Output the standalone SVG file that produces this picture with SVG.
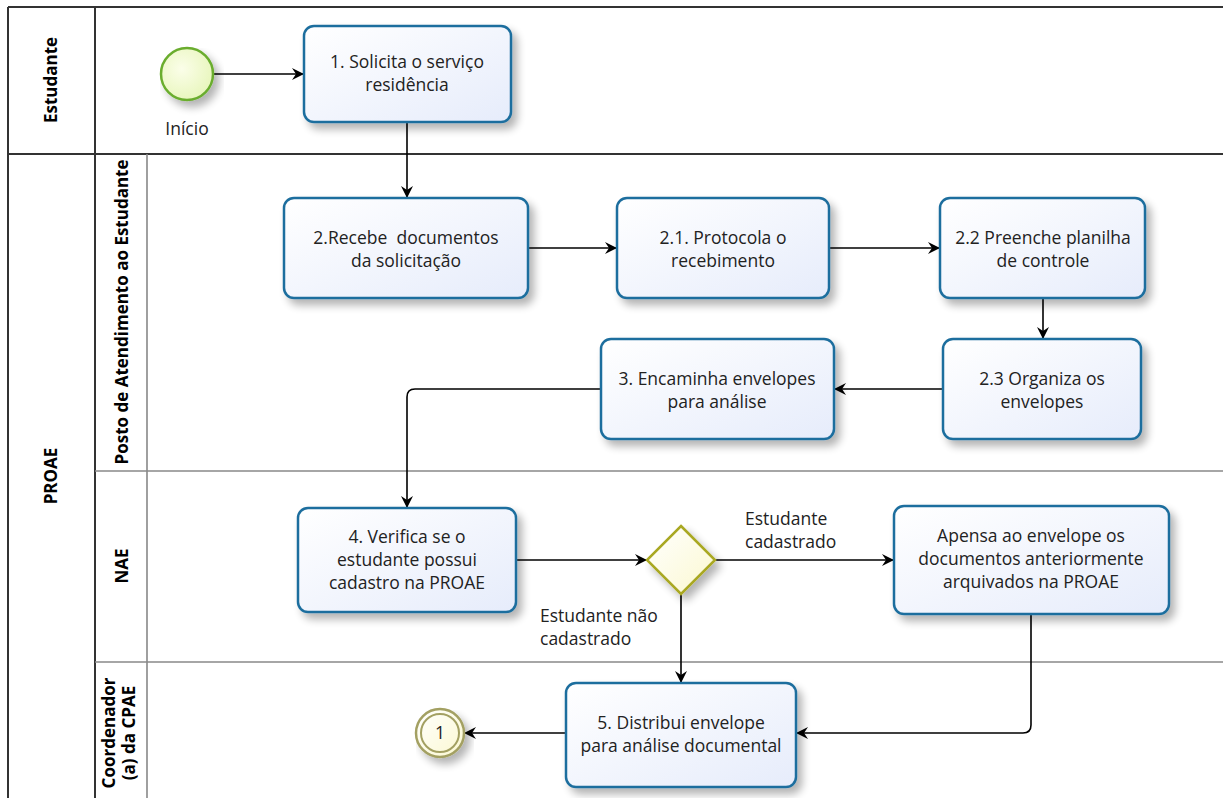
<svg xmlns="http://www.w3.org/2000/svg" width="1223" height="798" viewBox="0 0 1223 798">
<style>
.lane{stroke:#333;stroke-width:2;fill:none}
.sub{stroke:#888;stroke-width:1.6;fill:none}
.lbl{font-family:"Open Sans","Noto Sans",sans-serif;font-size:17px;font-weight:bold;fill:#000;text-anchor:middle}
.task{fill:url(#tg);stroke:#1f6e9e;stroke-width:2.5;filter:url(#sh)}
.tt{font-family:"Open Sans","Noto Sans",sans-serif;font-size:17.5px;fill:#222;text-anchor:middle}
.et{font-family:"Open Sans","Noto Sans",sans-serif;font-size:17.5px;fill:#222}
.con{stroke:#000;stroke-width:1.6;fill:none;marker-end:url(#ah)}
</style>
<defs>
<linearGradient id="tg" x1="0" y1="0" x2="1" y2="1"><stop offset="0" stop-color="#ffffff"/><stop offset="1" stop-color="#e6ecfb"/></linearGradient>
<radialGradient id="sg" cx="0.4" cy="0.4" r="0.7"><stop offset="0" stop-color="#fbfee9"/><stop offset="1" stop-color="#e6f5b8"/></radialGradient>
<linearGradient id="gg" x1="0" y1="0" x2="1" y2="1"><stop offset="0" stop-color="#ffffff"/><stop offset="1" stop-color="#fbf8d0"/></linearGradient>
<filter id="sh" x="-10%" y="-10%" width="130%" height="140%"><feGaussianBlur in="SourceAlpha" stdDeviation="4"/><feOffset dx="5" dy="6"/><feComponentTransfer><feFuncA type="linear" slope="0.3"/></feComponentTransfer><feMerge><feMergeNode/><feMergeNode in="SourceGraphic"/></feMerge></filter>
<marker id="ah" viewBox="0 0 12 12" refX="11" refY="6" markerWidth="12" markerHeight="12" markerUnits="userSpaceOnUse" orient="auto"><path d="M0,0 L12,6 L0,12 L4,6 Z" fill="#000"/></marker>
</defs>
<rect width="1223" height="798" fill="#fff"/>
<g id="lanes">
<line class="lane" x1="8" y1="7" x2="1223" y2="7"/>
<line class="lane" x1="8" y1="7" x2="8" y2="798"/>
<line class="lane" x1="95" y1="7" x2="95" y2="798"/>
<line class="lane" x1="8" y1="154" x2="1223" y2="154"/>
<line class="sub" x1="147" y1="154" x2="147" y2="798"/>
<line class="sub" x1="95" y1="471" x2="1223" y2="471"/>
<line class="sub" x1="95" y1="662" x2="1223" y2="662"/>
<text class="lbl" transform="translate(57,80) rotate(-90)">Estudante</text>
<text class="lbl" transform="translate(57,476) rotate(-90)">PROAE</text>
<text class="lbl" transform="translate(128,312) rotate(-90)">Posto de Atendimento ao Estudante</text>
<text class="lbl" transform="translate(128,566) rotate(-90)">NAE</text>
<text class="lbl" transform="translate(115,733) rotate(-90)">Coordenador</text>
<text class="lbl" transform="translate(135,733) rotate(-90)">(a) da CPAE</text>
</g>
<g id="connectors">
<line class="con" x1="213" y1="74" x2="303" y2="74"/>
<line class="con" x1="407" y1="122" x2="407" y2="197"/>
<line class="con" x1="528" y1="248" x2="616" y2="248"/>
<line class="con" x1="829" y1="248" x2="939" y2="248"/>
<line class="con" x1="1043" y1="298" x2="1043" y2="338"/>
<line class="con" x1="943" y1="389" x2="835" y2="389"/>
<path class="con" d="M601,389 H415 Q407,389 407,397 V507"/>
<line class="con" x1="516" y1="560" x2="646" y2="560"/>
<line class="con" x1="715" y1="560" x2="893" y2="560"/>
<line class="con" x1="681" y1="594" x2="681" y2="682"/>
<path class="con" d="M1031,614 V725 Q1031,733 1023,733 H797"/>
<line class="con" x1="566" y1="733" x2="465" y2="733"/>
<text class="et" x="745" y="525">Estudante</text>
<text class="et" x="745" y="548">cadastrado</text>
<text class="et" x="540" y="622">Estudante não</text>
<text class="et" x="540" y="645">cadastrado</text>
</g>
<g id="start">
<circle cx="187" cy="74" r="26" fill="url(#sg)" stroke="#6aad2e" stroke-width="2.5" filter="url(#sh)"/>
<text class="tt" x="187" y="135">Início</text>
</g>
<g id="t1">
<rect class="task" x="304" y="26" width="207" height="96" rx="10"/>
<text class="tt" x="407" y="68">1. Solicita o serviço</text>
<text class="tt" x="407" y="91">residência</text>
</g>
<g id="t2">
<rect class="task" x="284" y="198" width="244" height="100" rx="10"/>
<text class="tt" x="406" y="244" xml:space="preserve">2.Recebe  documentos</text>
<text class="tt" x="406" y="267">da solicitação</text>
</g>
<g id="t21">
<rect class="task" x="617" y="198" width="212" height="100" rx="10"/>
<text class="tt" x="723" y="244">2.1. Protocola o</text>
<text class="tt" x="723" y="267">recebimento</text>
</g>
<g id="t22">
<rect class="task" x="940" y="198" width="205" height="100" rx="10"/>
<text class="tt" x="1043" y="244">2.2 Preenche planilha</text>
<text class="tt" x="1043" y="267">de controle</text>
</g>
<g id="t23">
<rect class="task" x="943" y="339" width="198" height="100" rx="10"/>
<text class="tt" x="1042" y="385">2.3 Organiza os</text>
<text class="tt" x="1042" y="408">envelopes</text>
</g>
<g id="t3">
<rect class="task" x="601" y="339" width="233" height="100" rx="10"/>
<text class="tt" x="717" y="385">3. Encaminha envelopes</text>
<text class="tt" x="717" y="408">para análise</text>
</g>
<g id="t4">
<rect class="task" x="298" y="508" width="218" height="104" rx="10"/>
<text class="tt" x="407" y="543">4. Verifica se o</text>
<text class="tt" x="407" y="566">estudante possui</text>
<text class="tt" x="407" y="589">cadastro na PROAE</text>
</g>
<g id="gw">
<polygon points="681,526 715,560 681,594 647,560" fill="url(#gg)" stroke="#a9a824" stroke-width="2.5" filter="url(#sh)"/>
</g>
<g id="tap">
<rect class="task" x="894" y="506" width="275" height="108" rx="10"/>
<text class="tt" x="1031" y="542">Apensa ao envelope os</text>
<text class="tt" x="1031" y="565">documentos anteriormente</text>
<text class="tt" x="1031" y="588">arquivados na PROAE</text>
</g>
<g id="t5">
<rect class="task" x="566" y="683" width="230" height="104" rx="10"/>
<text class="tt" x="681" y="729">5. Distribui envelope</text>
<text class="tt" x="681" y="752">para análise documental</text>
</g>
<g id="end">
<circle cx="440" cy="733" r="24" fill="url(#gg)" stroke="#a3a062" stroke-width="2.5" filter="url(#sh)"/>
<circle cx="440" cy="733" r="19" fill="none" stroke="#a3a062" stroke-width="2"/>
<text class="tt" x="440" y="739" font-size="15">1</text>
</g>
</svg>
